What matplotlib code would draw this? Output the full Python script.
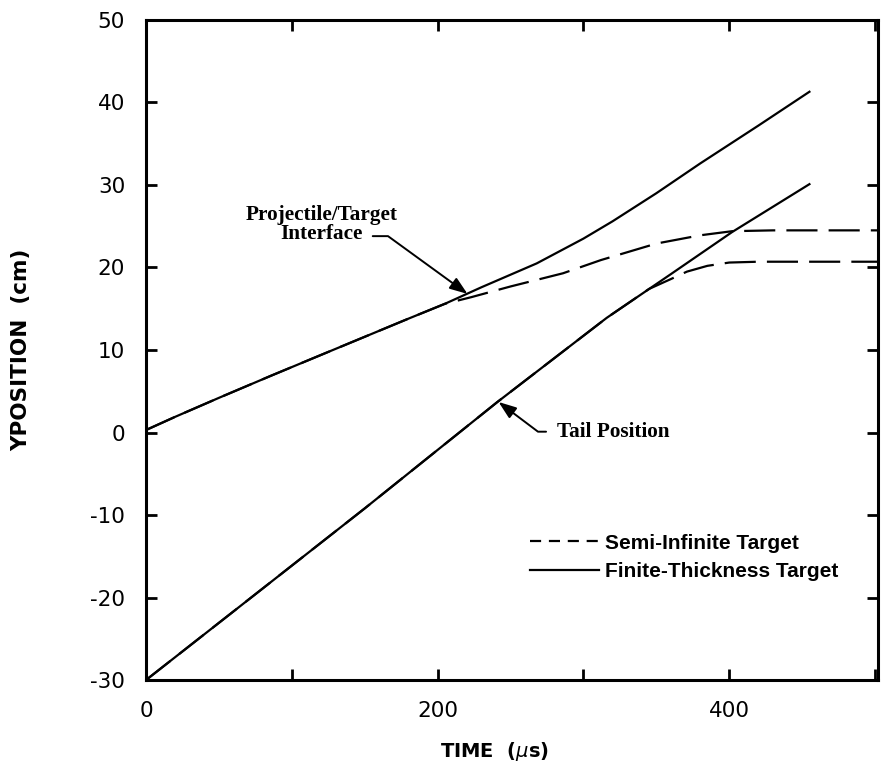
import matplotlib
matplotlib.use("Agg")
import matplotlib.pyplot as plt
from matplotlib.lines import Line2D
from matplotlib.ticker import FixedLocator

plt.rcParams['axes.unicode_minus'] = False

# Projectile/target interface position, finite-thickness target
t_front = [0, 20, 50, 86, 120, 150, 180, 205, 230, 268, 300, 320, 350, 380, 420, 455]
y_front = [0.3, 1.9, 4.2, 6.9, 9.4, 11.6, 13.8, 15.6, 17.6, 20.5, 23.5, 25.6, 29.0, 32.6, 37.2, 41.3]

# Projectile/target interface position, semi-infinite target
t_front_si = [0, 20, 50, 86, 120, 150, 180, 205, 223, 250, 286, 312, 350, 380, 402, 430, 502]
y_front_si = [0.3, 1.9, 4.2, 6.9, 9.4, 11.6, 13.8, 15.6, 16.4, 17.7, 19.3, 20.9, 22.9, 23.9, 24.4, 24.5, 24.5]

# Tail position, finite-thickness target
t_tail = [0, 57, 150, 241, 316, 360, 402, 455]
y_tail = [-30.0, -22.1, -9.2, 3.7, 13.9, 19.2, 24.3, 30.1]

# Tail position, semi-infinite target
t_tail_si = [0, 57, 150, 241, 316, 345, 360, 371, 385, 400, 420, 502]
y_tail_si = [-30.0, -22.1, -9.2, 3.7, 13.9, 17.4, 18.6, 19.5, 20.2, 20.6, 20.7, 20.7]

fig = plt.figure(figsize=(8.88, 7.74), dpi=100)
ax = fig.add_axes([0.1644, 0.1214, 0.8243, 0.8528])

dash = (14, 5)
ax.plot(t_front_si, y_front_si, color='black', lw=1.6, dashes=dash)
ax.plot(t_tail_si, y_tail_si, color='black', lw=1.6, dashes=dash)
ax.plot(t_front, y_front, color='black', lw=1.6)
ax.plot(t_tail, y_tail, color='black', lw=1.6)

ax.set_xlim(0, 502)
ax.set_ylim(-30, 50)

# Axes frame and ticks
for s in ax.spines.values():
    s.set_linewidth(2.2)
ax.xaxis.set_major_locator(FixedLocator([0, 200, 400]))
ax.xaxis.set_minor_locator(FixedLocator([100, 300, 500]))
ax.set_yticks(range(-30, 51, 10))
ax.tick_params(which='both', direction='in', top=True, right=True, width=2, length=8)
ax.tick_params(axis='both', which='major', pad=15, labelsize=15.5)
for lab in ax.get_xticklabels() + ax.get_yticklabels():
    lab.set_family('DejaVu Sans')

ax.set_xlabel(r'TIME  ($\mu$s)', fontsize=14, fontweight='bold', family='DejaVu Sans')
ax.set_ylabel('YPOSITION  (cm)', fontsize=15.5, fontweight='bold', family='DejaVu Sans')
ax.xaxis.set_label_coords(0.476, -0.108)
ax.yaxis.set_label_coords(-0.170, 0.5)
ax.xaxis.label.set_va('center')
ax.yaxis.label.set_va('center')

# Annotations
ax.text(120.5, 25.2, 'Projectile/Target\nInterface', ha='center', va='center',
        fontsize=15.3, fontweight='bold', family='Liberation Serif', linespacing=0.95)
ax.annotate('', xy=(220.5, 16.8), xytext=(155.5, 23.8),
            arrowprops=dict(arrowstyle='-|>,head_length=0.6,head_width=0.22',
                            color='black', lw=1.4,
                            mutation_scale=18, shrinkA=0, shrinkB=0,
                            connectionstyle='angle,angleA=0,angleB=-36,rad=0'))
ax.annotate('Tail Position', xy=(241.8, 3.7), xytext=(282, 0.1),
            ha='left', va='center', fontsize=15.3, fontweight='bold',
            family='Liberation Serif',
            arrowprops=dict(arrowstyle='-|>,head_length=0.6,head_width=0.22',
                            color='black', lw=1.4,
                            mutation_scale=18, shrinkA=6, shrinkB=0,
                            connectionstyle='angle,angleA=180,angleB=143,rad=0'))

# Legend
handles = [Line2D([], [], color='black', lw=1.6, dashes=(5, 3.5)),
           Line2D([], [], color='black', lw=1.6)]
ax.legend(handles, ['Semi-Infinite Target', 'Finite-Thickness Target'],
          loc='center left', bbox_to_anchor=(0.525, 0.186), frameon=False,
          borderpad=0, borderaxespad=0, handlelength=3.3, handletextpad=0.3,
          labelspacing=0.45, prop=dict(family='Liberation Sans', weight='bold', size=15))

fig.savefig('out.png', dpi=100)
